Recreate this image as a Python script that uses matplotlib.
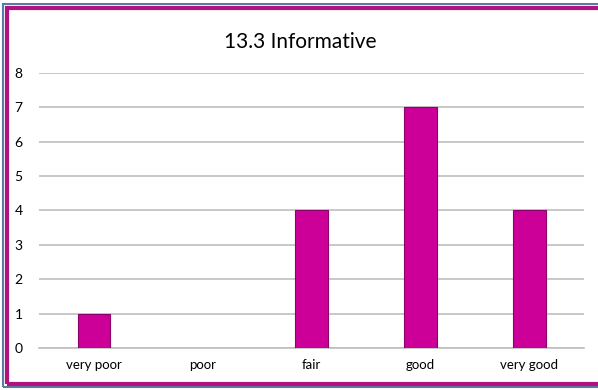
"""Bar chart: 13.3 Informative rating counts."""

import matplotlib

matplotlib.use("Agg")
import matplotlib.pyplot as plt
from matplotlib.patches import Rectangle

categories = ["very poor", "poor", "fair", "good", "very good"]
counts = [1, 0, 4, 7, 4]
y_ticks = [0, 1, 2, 3, 4, 5, 6, 7, 8]
title = "13.3 Informative"

BAR_COLOR = "#CC0099"
BAR_EDGE = "#8C0069"
GRID_COLOR = "#BFBFBF"

plt.rcParams["font.family"] = ["Lato", "DejaVu Sans"]

fig = plt.figure(figsize=(5.98, 3.9), dpi=100)
ax = fig.add_axes([0.066, 0.108, 0.91, 0.705])

x = range(len(categories))
bars = ax.bar(x, counts, width=0.3, color=BAR_COLOR, edgecolor=BAR_EDGE, linewidth=0.8, zorder=3)
# empty categories show no outline in the original
for bar, c in zip(bars, counts):
    if c == 0:
        bar.set_linewidth(0)

ax.set_xlim(-0.5, len(categories) - 0.5)
ax.set_ylim(0, 8)
ax.set_yticks(y_ticks)
ax.set_xticks(list(x))
ax.set_xticklabels(categories)
ax.tick_params(axis="both", length=0, colors="#000000")
ax.tick_params(axis="x", labelsize=9.5, pad=8)
ax.tick_params(axis="y", labelsize=10, pad=18)
for lbl in ax.get_yticklabels():
    lbl.set_horizontalalignment("left")

ax.yaxis.grid(True, color=GRID_COLOR, linewidth=1.2, zorder=0)
for side in ["top", "right", "left"]:
    ax.spines[side].set_visible(False)
ax.spines["bottom"].set_color(GRID_COLOR)
ax.spines["bottom"].set_linewidth(1.2)

fig.text(0.502, 0.892, title, ha="center", va="center", fontsize=15)

# frame around the chart (runs off the right edge like the screenshot)
fig.patches.append(Rectangle((3 / 598, 3 / 390), 1.1, 383 / 390, transform=fig.transFigure,
                             fill=False, edgecolor="#5A7AA8", linewidth=1.5))
fig.patches.append(Rectangle((7 / 598, 6 / 390), 1.1, 376 / 390, transform=fig.transFigure,
                             fill=False, edgecolor="#B0127F", linewidth=3))

fig.savefig("out.png", dpi=100)
